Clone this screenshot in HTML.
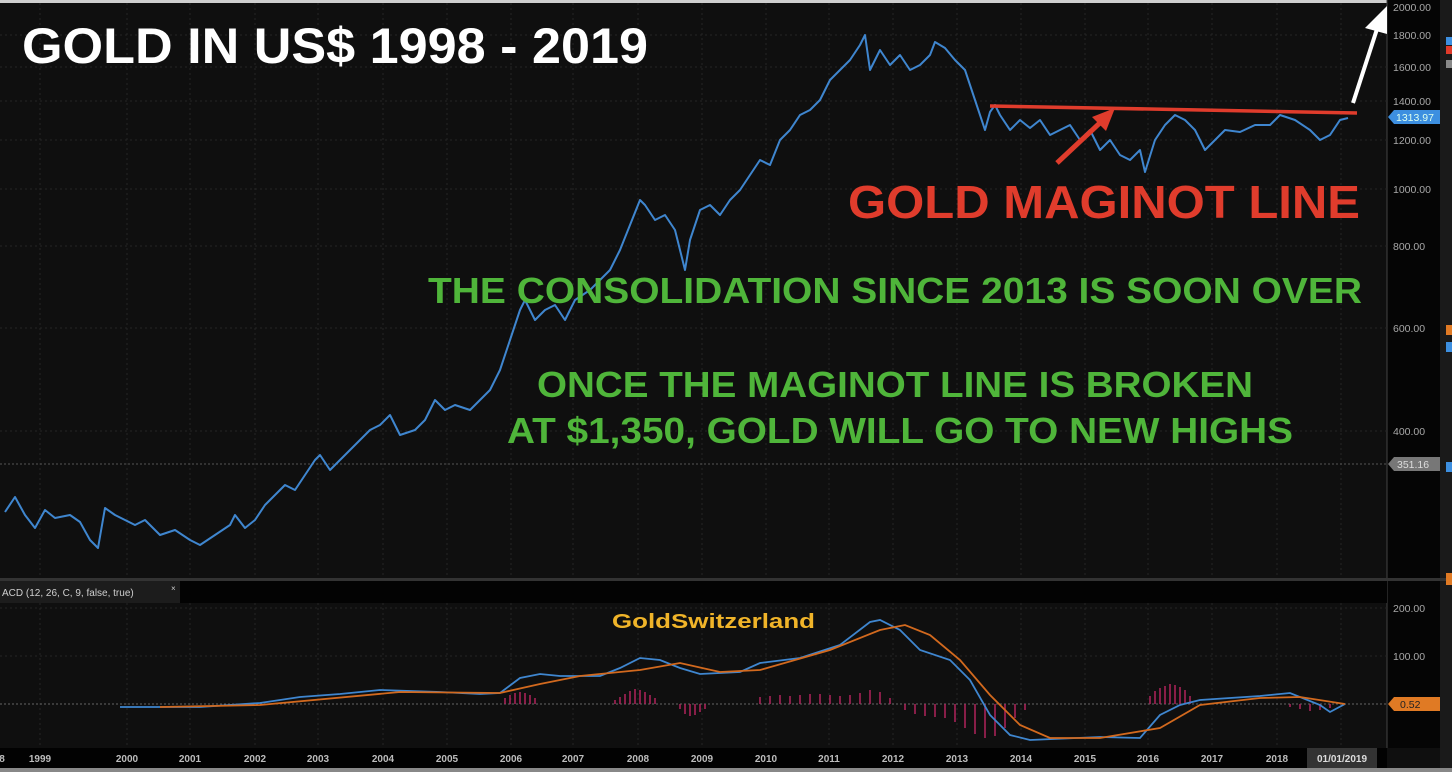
<!DOCTYPE html>
<html><head><meta charset="utf-8"><style>
html,body{margin:0;padding:0;background:#0b0b0b;width:1452px;height:772px;overflow:hidden}
svg{display:block}
</style></head><body>
<svg width="1452" height="772" viewBox="0 0 1452 772" xmlns="http://www.w3.org/2000/svg" font-family="Liberation Sans, sans-serif">
<rect x="0" y="0" width="1452" height="772" fill="#0f0f0f"/>
<rect x="0" y="0" width="1452" height="3" fill="#cfcfcf"/>
<rect x="1387" y="0" width="53" height="748" fill="#050505"/>
<rect x="1440" y="0" width="12" height="772" fill="#1a1a1a"/>
<line x1="1387" y1="0" x2="1387" y2="748" stroke="#444" stroke-width="1"/>
<g stroke="#262626" stroke-dasharray="2,3" stroke-width="1">
<line x1="40" y1="3" x2="40" y2="748"/><line x1="127" y1="3" x2="127" y2="748"/><line x1="190" y1="3" x2="190" y2="748"/><line x1="255" y1="3" x2="255" y2="748"/><line x1="318" y1="3" x2="318" y2="748"/><line x1="383" y1="3" x2="383" y2="748"/><line x1="447" y1="3" x2="447" y2="748"/><line x1="511" y1="3" x2="511" y2="748"/><line x1="573" y1="3" x2="573" y2="748"/><line x1="638" y1="3" x2="638" y2="748"/><line x1="702" y1="3" x2="702" y2="748"/><line x1="766" y1="3" x2="766" y2="748"/><line x1="829" y1="3" x2="829" y2="748"/><line x1="893" y1="3" x2="893" y2="748"/><line x1="957" y1="3" x2="957" y2="748"/><line x1="1021" y1="3" x2="1021" y2="748"/><line x1="1085" y1="3" x2="1085" y2="748"/><line x1="1148" y1="3" x2="1148" y2="748"/><line x1="1212" y1="3" x2="1212" y2="748"/><line x1="1277" y1="3" x2="1277" y2="748"/><line x1="1341" y1="3" x2="1341" y2="748"/>
<line x1="0" y1="35" x2="1387" y2="35"/><line x1="0" y1="67" x2="1387" y2="67"/><line x1="0" y1="101" x2="1387" y2="101"/><line x1="0" y1="140" x2="1387" y2="140"/><line x1="0" y1="189" x2="1387" y2="189"/><line x1="0" y1="246" x2="1387" y2="246"/><line x1="0" y1="328" x2="1387" y2="328"/><line x1="0" y1="431" x2="1387" y2="431"/>
<line x1="0" y1="608" x2="1387" y2="608"/><line x1="0" y1="656" x2="1387" y2="656"/>
</g>
<line x1="0" y1="464" x2="1387" y2="464" stroke="#555" stroke-dasharray="2,2"/>
<line x1="0" y1="704" x2="1387" y2="704" stroke="#666" stroke-dasharray="2,2"/>
<rect x="0" y="578" width="1452" height="3" fill="#333"/>
<rect x="0" y="581" width="1387" height="22" fill="#030303"/>
<rect x="0" y="581" width="180" height="22" fill="#1c1c1c"/>
<text x="2" y="596" fill="#cfcfcf" font-size="10">ACD (12, 26, C, 9, false, true)</text>
<text x="171" y="591" fill="#ccc" font-size="8">×</text>
<g fill="#a8a8a8" font-size="10.5">
<text x="1393" y="11">2000.00</text><text x="1393" y="39">1800.00</text><text x="1393" y="71">1600.00</text><text x="1393" y="105">1400.00</text><text x="1393" y="144">1200.00</text><text x="1393" y="193">1000.00</text><text x="1393" y="250">800.00</text><text x="1393" y="332">600.00</text><text x="1393" y="435">400.00</text><text x="1393" y="612">200.00</text><text x="1393" y="660">100.00</text>
</g>
<polygon points="1388,117 1394,110 1440,110 1440,124 1394,124" fill="#3d8fe0"/>
<text x="1396" y="121" fill="#dfe" font-size="10.5">1313.97</text>
<polygon points="1388,464 1394,457 1440,457 1440,471 1394,471" fill="#777"/>
<text x="1397" y="468" fill="#ddd" font-size="10.5">351.16</text>
<polygon points="1388,704 1394,697 1440,697 1440,711 1394,711" fill="#e07a24"/>
<text x="1400" y="708" fill="#222" font-size="10.5">0.52</text>
<rect x="1446" y="37" width="6" height="8" fill="#3d8fe0"/><rect x="1446" y="46" width="6" height="8" fill="#e03a2a"/><rect x="1446" y="60" width="6" height="8" fill="#888"/>
<rect x="1446" y="325" width="6" height="10" fill="#e07a24"/><rect x="1446" y="342" width="6" height="10" fill="#3d8fe0"/><rect x="1446" y="462" width="6" height="10" fill="#3d8fe0"/><rect x="1446" y="573" width="6" height="12" fill="#e07a24"/>
<polyline fill="none" stroke="#3f86cf" stroke-width="2" stroke-linejoin="round" points="5,512 15,497 25,515 35,528 45,510 55,518 70,515 80,522 90,540 98,548 105,508 115,515 125,520 135,525 145,520 160,535 175,530 190,540 200,545 215,535 230,525 235,515 245,528 255,520 265,505 275,495 285,485 295,490 305,475 315,460 320,455 330,470 340,460 350,450 360,440 370,430 380,425 390,415 400,435 415,430 425,420 435,400 445,410 455,405 470,410 480,400 490,390 500,370 510,340 520,310 525,300 535,320 545,310 555,305 565,320 575,300 590,290 600,280 610,270 620,250 630,225 640,200 645,205 655,220 665,215 675,230 685,270 690,240 700,210 710,205 720,215 730,200 740,190 750,175 760,160 770,165 780,140 790,130 800,115 810,110 820,100 830,80 840,70 850,60 860,45 865,35 870,70 880,50 890,65 900,55 910,70 920,65 930,55 935,42 945,48 955,60 965,70 975,100 985,130 990,112 995,105 1000,115 1010,130 1020,120 1030,128 1040,120 1050,135 1060,130 1070,125 1080,140 1090,130 1100,150 1110,140 1120,155 1130,160 1140,150 1145,172 1155,140 1165,125 1175,115 1185,120 1195,130 1205,150 1215,140 1225,130 1240,132 1255,125 1270,125 1280,115 1295,120 1310,130 1320,140 1330,135 1340,120 1348,118"/>
<g stroke="#b0245c" stroke-width="1.5">
<path d="M505,704V698M510,704V695M515,704V693M520,704V692M525,704V693M530,704V695M535,704V698M615,704V700M620,704V697M625,704V694M630,704V691M635,704V689M640,704V690M645,704V692M650,704V695M655,704V698M680,704V709M685,704V714M690,704V716M695,704V715M700,704V712M705,704V709M760,704V697M770,704V696M780,704V695M790,704V696M800,704V695M810,704V694M820,704V694M830,704V695M840,704V696M850,704V695M860,704V693M870,704V690M880,704V692M890,704V698M905,704V710M915,704V714M925,704V716M935,704V717M945,704V718M955,704V722M965,704V728M975,704V734M985,704V738M995,704V736M1005,704V728M1015,704V718M1025,704V710M1150,704V696M1155,704V691M1160,704V688M1165,704V686M1170,704V684M1175,704V685M1180,704V687M1185,704V690M1190,704V696M1290,704V707M1300,704V709M1310,704V711M1320,704V710M1330,704V708"/>
</g>
<polyline fill="none" stroke="#3f86cf" stroke-width="1.8" points="120,707 200,707 260,703 300,697 340,694 380,690 440,692 480,694 500,693 520,678 540,674 560,676 600,676 620,668 640,658 660,660 680,668 700,674 740,672 760,663 800,658 840,645 870,622 880,620 900,630 920,650 950,660 970,680 990,715 1010,735 1030,740 1100,737 1140,738 1160,715 1180,705 1200,700 1260,696 1290,693 1320,705 1330,712 1345,704"/>
<polyline fill="none" stroke="#d2691e" stroke-width="1.8" points="160,707 260,705 400,692 500,693 540,684 580,676 640,670 680,663 720,672 760,670 830,650 880,630 905,625 930,635 960,660 990,695 1020,725 1050,738 1100,738 1160,728 1200,705 1260,698 1300,697 1345,704"/>
<rect x="0" y="748" width="1387" height="20" fill="#020202"/>
<rect x="0" y="768" width="1452" height="4" fill="#888"/>
<rect x="1307" y="748" width="70" height="20" fill="#333"/>
<g fill="#bdbdbd" font-size="10" font-weight="bold" text-anchor="middle">
<text x="2" y="762">8</text><text x="40" y="762">1999</text><text x="127" y="762">2000</text><text x="190" y="762">2001</text><text x="255" y="762">2002</text><text x="318" y="762">2003</text><text x="383" y="762">2004</text><text x="447" y="762">2005</text><text x="511" y="762">2006</text><text x="573" y="762">2007</text><text x="638" y="762">2008</text><text x="702" y="762">2009</text><text x="766" y="762">2010</text><text x="829" y="762">2011</text><text x="893" y="762">2012</text><text x="957" y="762">2013</text><text x="1021" y="762">2014</text><text x="1085" y="762">2015</text><text x="1148" y="762">2016</text><text x="1212" y="762">2017</text><text x="1277" y="762">2018</text><text x="1342" y="762" fill="#ddd">01/01/2019</text>
</g>
<line x1="990" y1="106" x2="1357" y2="113" stroke="#e03c2c" stroke-width="3.5"/>
<line x1="1057" y1="163" x2="1103" y2="120" stroke="#e03c2c" stroke-width="5"/>
<polygon points="1115,108 1092,117 1106,131" fill="#e03c2c"/>
<line x1="1353" y1="103" x2="1378" y2="26" stroke="#fff" stroke-width="4"/>
<polygon points="1387,6 1365,28 1387,34" fill="#fff"/>
<text x="22" y="63" fill="#fff" font-size="50" font-weight="bold" textLength="626" lengthAdjust="spacingAndGlyphs">GOLD IN US$ 1998 - 2019</text>
<text x="848" y="218" fill="#e03c2c" font-size="46" font-weight="bold" textLength="512" lengthAdjust="spacingAndGlyphs">GOLD MAGINOT LINE</text>
<g fill="#4fb53a" font-size="36" font-weight="bold">
<text x="428" y="303" textLength="934" lengthAdjust="spacingAndGlyphs">THE CONSOLIDATION SINCE 2013  IS SOON OVER</text>
<text x="537" y="397" textLength="716" lengthAdjust="spacingAndGlyphs">ONCE THE MAGINOT LINE IS BROKEN</text>
<text x="507" y="443" textLength="786" lengthAdjust="spacingAndGlyphs">AT $1,350, GOLD WILL GO TO NEW HIGHS</text>
</g>
<text x="612" y="628" fill="#f0b429" font-size="20" font-weight="bold" textLength="203" lengthAdjust="spacingAndGlyphs">GoldSwitzerland</text>
</svg>
</body></html>
